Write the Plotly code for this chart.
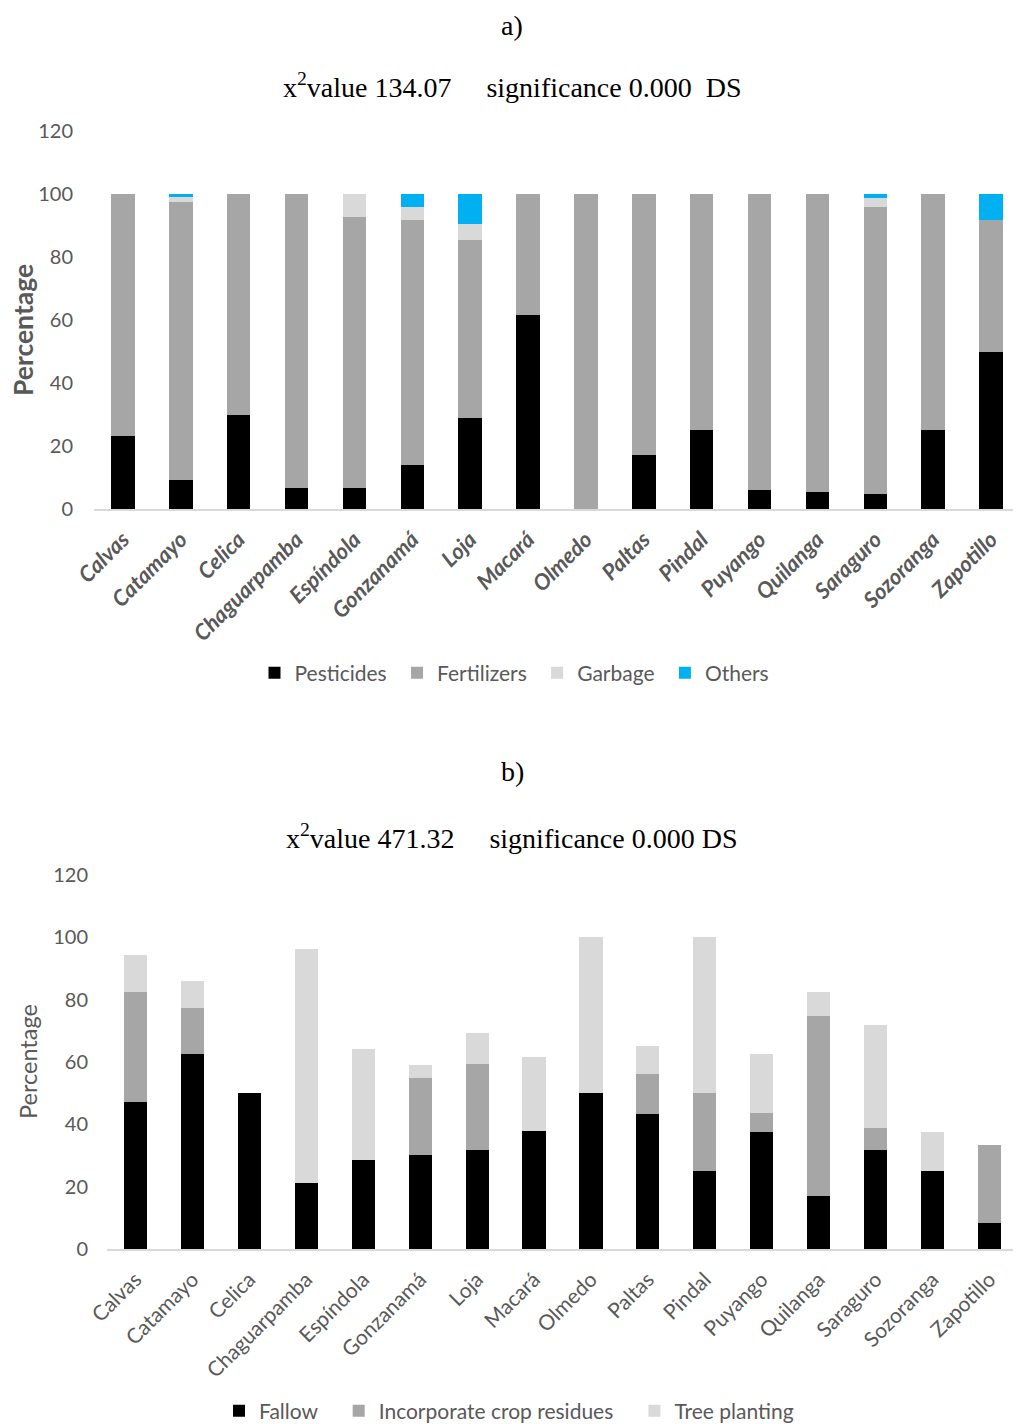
import plotly.graph_objects as go

cantons = ["Calvas", "Catamayo", "Celica", "Chaguarpamba", "Espíndola", "Gonzanamá",
           "Loja", "Macará", "Olmedo", "Paltas", "Pindal", "Puyango", "Quilanga",
           "Saraguro", "Sozoranga", "Zapotillo"]

# Chart a) – contaminants (%)
pesticides = [23.2, 9.2, 30.0, 6.7, 6.7, 14.0, 28.8, 61.7, 0.0, 17.0, 25.0, 6.0, 5.4, 4.8, 25.0, 50.0]
fertilizers = [76.8, 88.2, 70.0, 93.3, 86.0, 77.7, 56.6, 38.3, 100.0, 83.0, 75.0, 94.0, 94.6, 91.1, 75.0, 41.7]
garbage = [0, 1.8, 0, 0, 7.3, 4.2, 5.0, 0, 0, 0, 0, 0, 0, 2.8, 0, 0]
others = [0, 0.8, 0, 0, 0, 4.1, 9.6, 0, 0, 0, 0, 0, 0, 1.3, 0, 8.3]

# Chart b) – soil conservation practices (%)
fallow = [47.1, 62.7, 50.0, 21.1, 28.6, 30.2, 31.9, 37.8, 50.0, 43.3, 25.0, 37.5, 16.9, 31.8, 25.0, 8.3]
residues = [35.3, 14.7, 0, 0, 0, 24.8, 27.6, 0, 0, 13.0, 25.0, 6.25, 58.0, 7.1, 0, 25.0]
trees = [11.8, 8.5, 0, 75.1, 35.7, 3.9, 9.7, 23.9, 50.0, 8.8, 50.0, 18.75, 7.7, 32.9, 12.5, 0]

y_ticks = [0, 20, 40, 60, 80, 100, 120]

# page offset of the plot div (default body margin)
OFF = 8
W, H = 1021 - OFF, 1424 - OFF
def fy(px):
    return 1 - (px - OFF) / H
def fx(px):
    return (px - OFF) / W

GRAY_TXT = "#595959"
SANS = "Lato, 'Open Sans', sans-serif"
SERIF = "'Liberation Serif', 'Times New Roman', serif"
NB = "\u00a0"

fig = go.Figure()

series_a = [("Pesticides", pesticides, "#000000"), ("Fertilizers", fertilizers, "#A6A6A6"),
            ("Garbage", garbage, "#D9D9D9"), ("Others", others, "#00B0F0")]
for name, vals, col in series_a:
    fig.add_trace(go.Bar(x=cantons, y=vals, name=name + NB, marker=dict(color=col, line=dict(width=0)),
                         xaxis="x", yaxis="y", legend="legend"))

series_b = [("Fallow", fallow, "#000000"), ("Incorporate crop residues", residues, "#A6A6A6"),
            ("Tree planting", trees, "#D9D9D9")]
for name, vals, col in series_b:
    fig.add_trace(go.Bar(x=cantons, y=vals, name=name + NB * 3, marker=dict(color=col, line=dict(width=0)),
                         xaxis="x2", yaxis="y2", legend="legend2"))

axis_common = dict(showgrid=False, zeroline=False, automargin=False)
fig.update_layout(
    width=W, height=H,
    margin=dict(l=0, r=0, t=0, b=0, autoexpand=False),
    paper_bgcolor="white", plot_bgcolor="white",
    barmode="stack", bargap=0.594,
    font=dict(family=SANS, color=GRAY_TXT),
    xaxis=dict(domain=[fx(94), fx(1020)], anchor="y", showline=True, linecolor="#D9D9D9", linewidth=2,
               tickangle=-45, ticks="", ticklabelstandoff=7,
               tickfont=dict(size=22, color=GRAY_TXT, family=SANS, weight="bold", style="italic"),
               **axis_common),
    yaxis=dict(domain=[fy(509), fy(131)], anchor="x", range=[0, 120], tickvals=y_ticks,
               tickfont=dict(size=20, color=GRAY_TXT), ticklabelstandoff=20, showline=False, **axis_common),
    xaxis2=dict(domain=[fx(107), fx(1018)], anchor="y2", showline=True, linecolor="#D9D9D9", linewidth=2,
                tickangle=-45, ticks="", ticklabelstandoff=8,
                tickfont=dict(size=21, color=GRAY_TXT, family=SANS),
                **axis_common),
    yaxis2=dict(domain=[fy(1249), fy(875)], anchor="x2", range=[0, 120], tickvals=y_ticks,
                tickfont=dict(size=20, color=GRAY_TXT), ticklabelstandoff=18, showline=False, **axis_common),
    legend=dict(orientation="h", x=fx(517), xanchor="center", y=fy(673), yanchor="middle",
                font=dict(size=21, color=GRAY_TXT), itemwidth=30, traceorder="normal"),
    legend2=dict(orientation="h", x=fx(517), xanchor="center", y=fy(1411), yanchor="middle",
                 font=dict(size=21, color=GRAY_TXT), itemwidth=30, traceorder="normal"),
)

annotations = [
    dict(text="a)", x=fx(512), y=fy(8), yanchor="top", font=dict(family=SERIF, size=28, color="#000000")),
    dict(text="x<sup>2</sup>value 134.07" + NB * 5 + "significance 0.000" + NB * 2 + "DS",
         x=fx(512), y=fy(85), font=dict(family=SERIF, size=28, color="#000000")),
    dict(text="<b>Percentage</b>", x=fx(23), y=fy(330), textangle=-90, font=dict(size=26.5, color=GRAY_TXT)),
    dict(text="b)", x=fx(512), y=fy(771), font=dict(family=SERIF, size=28, color="#000000")),
    dict(text="x<sup>2</sup>value 471.32" + NB * 5 + "significance 0.000 DS",
         x=fx(512), y=fy(836), font=dict(family=SERIF, size=28, color="#000000")),
    dict(text="Percentage", x=fx(28), y=fy(1062), textangle=-90, font=dict(size=23.5, color=GRAY_TXT)),
]
for a in annotations:
    a.setdefault("yanchor", "middle")
    a.update(xref="paper", yref="paper", showarrow=False, xanchor="center")
fig.update_layout(annotations=annotations)

fig.write_html("out.html")
